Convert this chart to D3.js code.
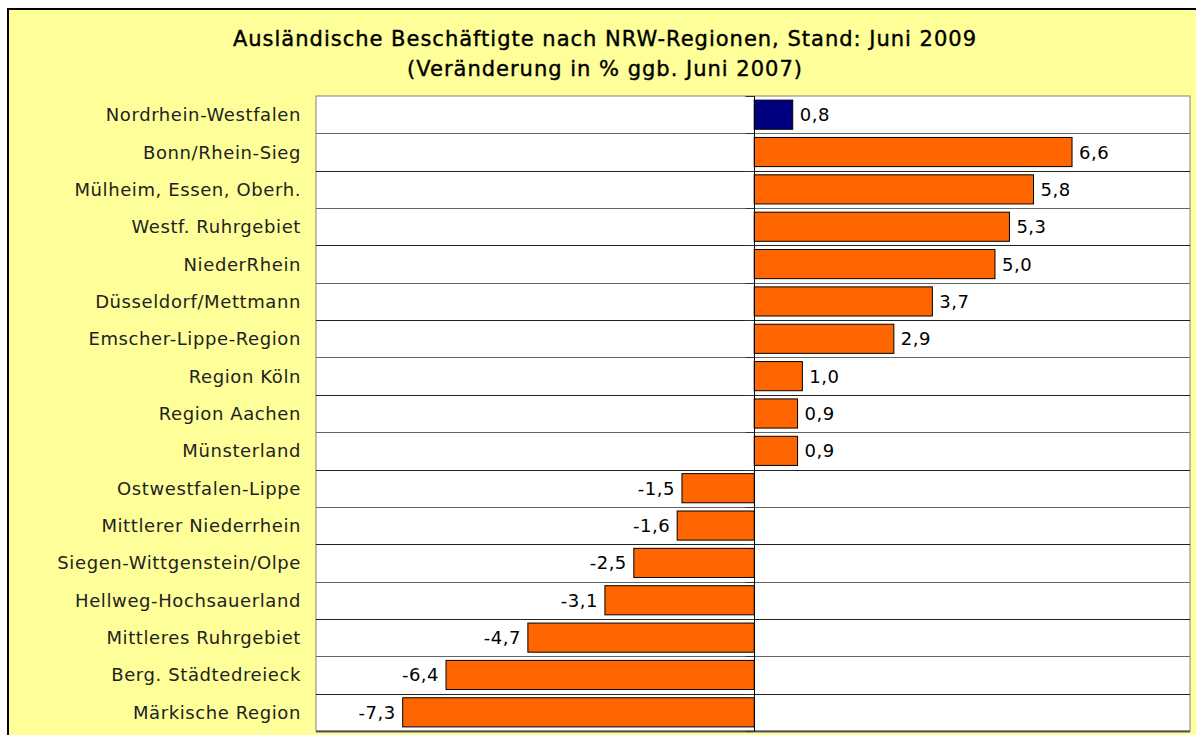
<!DOCTYPE html>
<html><head><meta charset="utf-8">
<script src="https://cdn.jsdelivr.net/npm/d3@7"></script>
<style>html,body{margin:0;padding:0;background:#fff;}svg{display:block;}</style>
</head><body>
<svg id="c" width="1196" height="735"></svg>
<script>
const categories = ["Nordrhein-Westfalen","Bonn/Rhein-Sieg","Mülheim, Essen, Oberh.","Westf. Ruhrgebiet","NiederRhein","Düsseldorf/Mettmann","Emscher-Lippe-Region","Region Köln","Region Aachen","Münsterland","Ostwestfalen-Lippe","Mittlerer Niederrhein","Siegen-Wittgenstein/Olpe","Hellweg-Hochsauerland","Mittleres Ruhrgebiet","Berg. Städtedreieck","Märkische Region"];
const values = [0.8,6.6,5.8,5.3,5.0,3.7,2.9,1.0,0.9,0.9,-1.5,-1.6,-2.5,-3.1,-4.7,-6.4,-7.3];
const titleLines = ["Ausländische Beschäftigte nach NRW-Regionen, Stand: Juni 2009","(Veränderung in % ggb. Juni 2007)"];

const svg = d3.select("#c");
const font = "'DejaVu Sans', 'Open Sans', sans-serif";
// outer panel
svg.append("rect").attr("x",8).attr("y",9).attr("width",1300).attr("height",800)
  .attr("fill","#FFFF99").attr("stroke","#000").attr("stroke-width",2);

const plot = {x0:316, x1:1190, y0:96, y1:731};
const x = d3.scaleLinear().domain([-9.1,9.05]).range([plot.x0,plot.x1]);
const y = d3.scaleBand().domain(categories).range([plot.y0,plot.y1]).paddingInner(0.22).paddingOuter(0.11);
const step = y.step();

svg.append("rect").attr("x",plot.x0).attr("y",plot.y0).attr("width",plot.x1-plot.x0).attr("height",plot.y1-plot.y0)
  .attr("fill","#fff").attr("stroke","#808080").attr("stroke-width",1);
svg.append("line").attr("x1",plot.x0).attr("x2",plot.x1).attr("y1",plot.y1+0.5).attr("y2",plot.y1+0.5).attr("stroke","#555").attr("stroke-width",2);

// row separators
const seps = d3.range(1,categories.length).map(i=>plot.y0+i*step);
svg.selectAll("line.sep").data(seps).enter().append("line")
  .attr("x1",plot.x0).attr("x2",plot.x1).attr("y1",d=>Math.round(d)+0.5).attr("y2",d=>Math.round(d)+0.5)
  .attr("stroke",(d,i)=>i%2? "#222":"#666").attr("stroke-width",1);

// bars
svg.selectAll("rect.bar").data(values).enter().append("rect")
  .attr("x",d=>x(Math.min(0,d))).attr("width",d=>Math.abs(x(d)-x(0)))
  .attr("y",(d,i)=>y(categories[i])).attr("height",y.bandwidth())
  .attr("fill",(d,i)=>i===0?"#000080":"#FF6600").attr("stroke","#000").attr("stroke-width",1);

// zero axis
const ax = svg.append("g").attr("transform",`translate(${Math.round(x(0))+0.5},0)`);
ax.append("line").attr("y1",plot.y0).attr("y2",plot.y1).attr("stroke","#000");
ax.selectAll("line.t").data(d3.range(0,categories.length+1)).enter().append("line")
  .attr("x1",-9).attr("x2",0).attr("y1",i=>Math.round(plot.y0+i*step)+0.5).attr("y2",i=>Math.round(plot.y0+i*step)+0.5)
  .attr("stroke","#333");

// value labels
svg.selectAll("text.val").data(values).enter().append("text")
  .attr("x",d=>d>=0? x(d)+7 : x(d)-7)
  .attr("y",(d,i)=>y(categories[i])+y.bandwidth()/2)
  .attr("dy","0.36em")
  .attr("text-anchor",d=>d>=0?"start":"end")
  .attr("font-family",font).attr("font-size",18).attr("letter-spacing",0.5).attr("fill","#000")
  .text(d=>d3.format(".1f")(d).replace(".",",").replace("−","-"));

// category labels
svg.selectAll("text.cat").data(categories).enter().append("text")
  .attr("x",301).attr("y",d=>y(d)+y.bandwidth()/2).attr("dy","0.36em")
  .attr("text-anchor","end").attr("font-family",font).attr("font-size",18).attr("letter-spacing",0.6).attr("fill","#222")
  .text(d=>d);

// title
svg.selectAll("text.title").data(titleLines).enter().append("text")
  .attr("x",605).attr("y",(d,i)=>46+i*30).attr("text-anchor","middle")
  .attr("font-family",font).attr("font-size",21).attr("letter-spacing",1).attr("fill","#000")
  .attr("stroke","#000").attr("stroke-width",0.4)
  .text(d=>d);
</script>
</body></html>
